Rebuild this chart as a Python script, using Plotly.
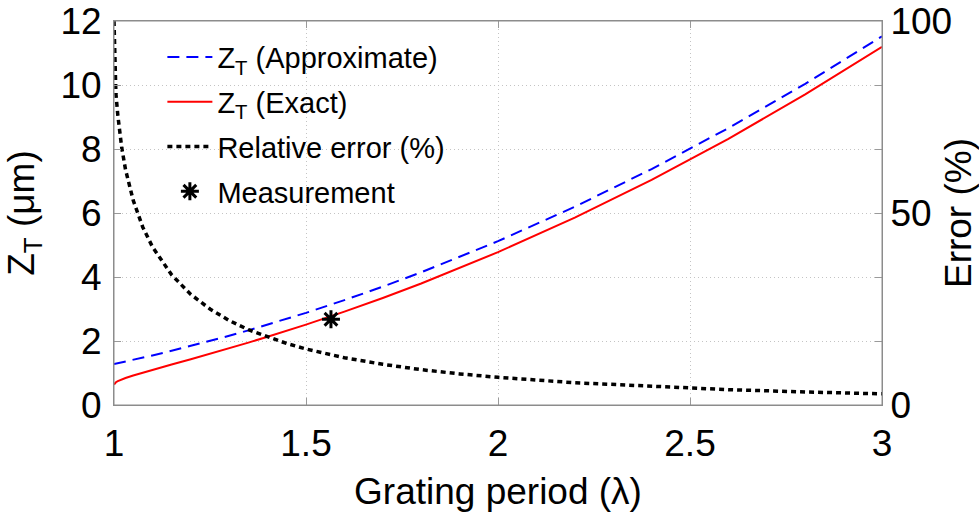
import plotly.graph_objects as go

# Grating period in units of wavelength
period = [1.0, 1.002, 1.005, 1.01, 1.02, 1.03, 1.05, 1.075, 1.1, 1.15, 1.2, 1.25, 1.3,
          1.35, 1.4, 1.45, 1.5, 1.6, 1.7, 1.8, 1.9, 2.0, 2.2, 2.4, 2.6, 2.8, 3.0]
# Talbot distance (um)
zt_approx = [1.280, 1.285, 1.293, 1.306, 1.332, 1.358, 1.411, 1.479, 1.549, 1.693, 1.843, 2.000, 2.163,
             2.333, 2.509, 2.691, 2.880, 3.277, 3.699, 4.147, 4.621, 5.120, 6.195, 7.373, 8.653, 10.035, 11.520]
zt_exact = [0.640, 0.683, 0.711, 0.745, 0.797, 0.842, 0.921, 1.011, 1.097, 1.264, 1.431, 1.600, 1.773,
            1.950, 2.132, 2.320, 2.513, 2.917, 3.345, 3.798, 4.275, 4.777, 5.857, 7.038, 8.320, 9.704, 11.191]
# Relative error (%)
rel_error = [100.0, 88.1, 81.0, 75.4, 67.1, 61.3, 53.3, 46.3, 41.2, 33.9, 28.8, 25.0, 22.0,
             19.6, 17.7, 16.0, 14.6, 12.3, 10.6, 9.2, 8.1, 7.2, 5.8, 4.8, 4.0, 3.4, 2.9]
# Measurement
meas_x = [1.565]
meas_y = [2.68]

x_ticks = [1, 1.5, 2, 2.5, 3]
y_ticks = [0, 2, 4, 6, 8, 10, 12]
y2_ticks = [0, 50, 100]

FONT = "Liberation Sans, Arial, sans-serif"

fig = go.Figure()
fig.add_trace(go.Scatter(x=period, y=zt_approx, mode="lines", name="Z<sub>T</sub> (Approximate)",
                         line=dict(color="#0000ff", width=2, dash="12px,7px"), legendgroup="a"))
fig.add_trace(go.Scatter(x=period, y=zt_exact, mode="lines", name="Z<sub>T</sub> (Exact)",
                         line=dict(color="#ff0000", width=2), legendgroup="b"))
fig.add_trace(go.Scatter(x=period, y=rel_error, mode="lines", name="Relative error (%)", yaxis="y2",
                         line=dict(color="black", width=3.5, dash="5px,4px"), legendgroup="c"))
fig.add_trace(go.Scatter(x=meas_x, y=meas_y, mode="markers", name="Measurement",
                         marker=dict(symbol="asterisk-open", size=15, color="black",
                                     line=dict(color="black", width=3)), legendgroup="d"))

axis_common = dict(showline=True, linecolor="#8c8c8c", linewidth=1, ticks="inside", ticklen=7,
                   tickcolor="#9a9a9a", tickfont=dict(family=FONT, size=37, color="black"),
                   zeroline=False, automargin=False)

grid_common = dict(showgrid=True, gridcolor="#c4c4c4", griddash="1px,3px", gridwidth=1)

fig.update_layout(
    width=979, height=516,
    margin=dict(l=114, r=97, t=21, b=111),
    plot_bgcolor="white", paper_bgcolor="white",
    showlegend=True,
    legend=dict(x=0.063, y=0.972, xanchor="left", yanchor="top", bgcolor="rgba(0,0,0,0)",
                font=dict(family=FONT, size=29, color="black"), traceorder="grouped",
                tracegroupgap=4, itemwidth=45),
    xaxis=dict(range=[1, 3], tickvals=x_ticks, ticktext=[str(v) for v in x_ticks], mirror="ticks",
               ticklabelstandoff=6,
               title=dict(text="Grating period (λ)", font=dict(family=FONT, size=37, color="black"),
                          standoff=14),
               **grid_common, **axis_common),
    yaxis=dict(range=[0, 12], tickvals=y_ticks, mirror="ticks", ticklabelstandoff=4,
               title=dict(text="Z<sub>T</sub> (μm)", font=dict(family=FONT, size=37, color="black"),
                          standoff=14),
               **grid_common, **axis_common),
    yaxis2=dict(range=[0, 100], tickvals=y2_ticks, overlaying="y", side="right", showgrid=False,
                title=dict(text="Error (%)", font=dict(family=FONT, size=37, color="black"),
                           standoff=10),
                **axis_common),
    shapes=[dict(type="rect", xref="paper", yref="paper", x0=0, x1=1, y0=0, y1=1,
                 line=dict(color="#8c8c8c", width=1), fillcolor="rgba(0,0,0,0)", layer="above")],
)

fig.write_html("out.html")
